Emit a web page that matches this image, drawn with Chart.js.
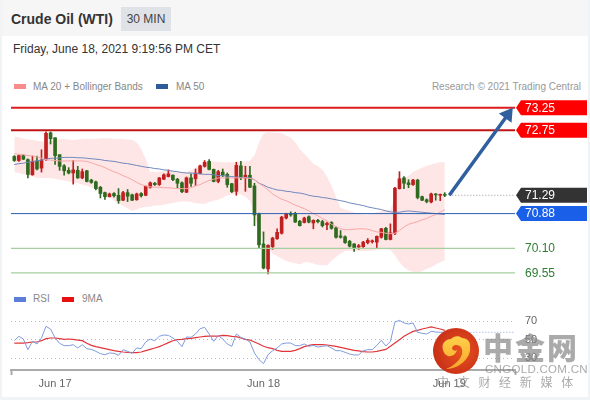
<!DOCTYPE html>
<html>
<head>
<meta charset="utf-8">
<title>Crude Oil (WTI)</title>
<script src="https://cdn.jsdelivr.net/npm/chart.js@4"></script>
<style>
  html, body { margin: 0; padding: 0; background: #fff; }
  body { width: 590px; height: 400px; position: relative; overflow: hidden; font-family: "Liberation Sans", Arial, sans-serif; }
  .abs { position: absolute; white-space: nowrap; }
  canvas { position: absolute; left: 0; }
  #frameL { left: 0; top: 0; width: 2px; height: 400px; background: #f1f4f7; }
  #frameR { left: 588px; top: 0; width: 2px; height: 400px; background: #f1f4f7; }
  #frameB { left: 0; top: 397px; width: 590px; height: 3px; background: #f1f4f7; }
  #head { left: 0; top: 0; width: 590px; height: 36px; background: #f6f6f6; }
  #title { left: 11px; top: 10px; font-size: 14px; line-height: 18px; font-weight: bold; color: #333; }
  #badge { left: 121px; top: 7px; width: 50px; height: 24px; line-height: 24px; text-align: center; font-size: 12px; color: #444; background: #dfe2e6; }
  #stamp { left: 13px; top: 41px; font-size: 12px; line-height: 16px; color: #333; }
  .leg { font-size: 10px; line-height: 12px; color: #888; }
  .swatch { height: 5px; width: 12px; }
  #wm1 { left: 483px; top: 326px; font-family: "Noto Sans CJK SC"; font-weight: 900; font-size: 30px; line-height: 40px; color: rgba(130,130,130,0.68); letter-spacing: 2px; }
  #wm2 { left: 485px; top: 363px; font-size: 11.5px; line-height: 13px; color: rgba(130,130,130,0.68); letter-spacing: 0.3px; }
  #wm3 { left: 437px; top: 374px; font-family: "Noto Sans CJK SC"; font-size: 12px; line-height: 16px; color: rgba(130,130,130,0.68); letter-spacing: 8.7px; }
  #logo { left: 433px; top: 328px; width: 46px; height: 46px; }
</style>
</head>
<body>
<div class="abs" id="head"></div>
<div class="abs" id="frameL"></div>
<div class="abs" id="frameR"></div>
<div class="abs" id="frameB"></div>
<div class="abs" id="title">Crude Oil (WTI)</div>
<div class="abs" id="badge">30 MIN</div>
<div class="abs" id="stamp">Friday, June 18, 2021 9:19:56 PM CET</div>

<div class="abs swatch" style="left:14px;top:84px;background:#f98b8b"></div>
<div class="abs leg" style="left:33px;top:81px">MA 20 + Bollinger Bands</div>
<div class="abs swatch" style="left:156px;top:84px;background:#2f5a9b"></div>
<div class="abs leg" style="left:176px;top:81px">MA 50</div>
<div class="abs leg" style="right:9px;top:81px;color:#999">Research © 2021 Trading Central</div>

<div class="abs swatch" style="left:14px;top:297px;background:#5b7fd8"></div>
<div class="abs leg" style="left:33px;top:293px">RSI</div>
<div class="abs swatch" style="left:62px;top:297px;background:#e81010"></div>
<div class="abs leg" style="left:82px;top:293px">9MA</div>

<canvas id="priceChart" width="590" height="195" style="top:90px"></canvas>
<canvas id="rsiChart" width="590" height="90" style="top:310px"></canvas>

<svg class="abs" id="logo" viewBox="0 0 46 46">
  <defs>
    <radialGradient id="disc" cx="0.6" cy="0.5" r="0.6">
      <stop offset="0" stop-color="#e8521f"/>
      <stop offset="1" stop-color="#c72f17"/>
    </radialGradient>
    <linearGradient id="swirl" x1="0" y1="0" x2="0" y2="1">
      <stop offset="0" stop-color="#ffd24a"/>
      <stop offset="1" stop-color="#f7a52c"/>
    </linearGradient>
  </defs>
  <circle cx="23" cy="23" r="23" fill="url(#disc)"/>
  <path fill="url(#swirl)" d="M10 22c-2-7 3-11 8-11 2-3 8-4 11-1 5 0 9 4 8 9 1 8-5 15-12 19-4 2-8 3-12 3 7-3 14-8 16-15 1-5-1-9-6-9-3 0-5 3-3 5 1 1 3 1 4 0-1 4-5 7-9 6-3-1-4-3-5-6z"/>
</svg>
<div class="abs" id="wm1">中金网</div>
<div class="abs" id="wm2">CNGOLD.COM.CN</div>
<div class="abs" id="wm3">中文财经新媒体</div>

<script>
// 30 minute candles, oldest first
const opens = [72.16,72.07,72.18,72.09,71.75,72.06,71.90,72.09,72.69,72.58,72.20,71.95,71.85,71.79,71.85,71.68,71.84,71.63,71.59,71.47,71.35,71.26,71.33,71.29,71.18,71.35,71.30,71.19,71.33,71.29,71.47,71.56,71.53,71.65,71.71,71.74,71.65,71.57,71.36,71.68,71.66,71.78,71.94,72.05,71.87,71.60,71.81,71.76,71.55,71.38,71.95,71.68,71.74,71.50,70.87,70.20,69.64,70.14,70.32,70.44,70.78,70.88,70.88,70.71,70.68,70.81,70.67,70.73,70.70,70.63,70.68,70.56,70.38,70.36,70.26,70.20,70.13,70.14,70.23,70.25,70.24,70.35,70.55,70.30,70.44,71.44,71.68,71.57,71.53,71.63,71.26,71.19,71.14,71.32,71.29,71.31];
const closes = [72.07,72.18,72.10,71.76,72.05,71.88,72.08,72.68,72.56,72.18,71.94,71.84,71.79,71.86,71.68,71.82,71.60,71.58,71.44,71.33,71.26,71.32,71.28,71.17,71.35,71.27,71.18,71.32,71.28,71.49,71.57,71.53,71.68,71.75,71.77,71.64,71.56,71.37,71.68,71.56,71.79,71.95,72.03,71.87,71.60,71.82,71.74,71.53,71.37,71.96,71.68,71.74,71.47,70.85,70.18,69.66,70.17,70.33,70.46,70.80,70.87,70.85,70.69,70.61,70.78,70.69,70.73,70.70,70.61,70.66,70.55,70.35,70.35,70.23,70.15,70.11,70.16,70.24,70.28,70.27,70.37,70.54,70.30,70.45,71.45,71.66,71.56,71.53,71.63,71.24,71.18,71.15,71.32,71.30,71.31,71.29];
const highs = [72.18,72.19,72.20,72.11,72.17,72.17,72.31,72.71,72.71,72.58,72.20,71.98,71.91,72.07,71.94,71.88,71.85,71.65,71.61,71.49,71.36,71.34,71.35,71.44,71.38,71.42,71.32,71.34,71.35,71.50,71.59,71.58,71.69,71.77,71.86,71.75,71.67,71.59,71.70,71.77,71.88,71.97,72.07,72.09,71.88,71.85,71.88,71.79,71.56,72.03,72.05,71.94,71.94,71.56,70.89,70.47,70.18,70.35,70.54,70.82,70.89,70.92,70.91,70.73,70.80,70.83,70.74,70.75,70.73,70.69,70.70,70.59,70.50,70.38,70.28,70.21,70.19,70.26,70.32,70.29,70.38,70.55,70.57,70.65,71.47,71.82,71.71,71.64,71.65,71.65,71.27,71.21,71.34,71.33,71.32,71.35];
const lows = [72.05,72.05,72.09,71.68,71.74,71.86,71.81,72.07,72.44,71.98,71.85,71.74,71.77,71.54,71.67,71.66,71.59,71.56,71.41,71.23,71.20,71.25,71.25,71.11,71.17,71.15,71.17,71.18,71.25,71.28,71.45,71.51,71.51,71.64,71.70,71.62,71.46,71.35,71.35,71.49,71.51,71.77,71.92,71.86,71.59,71.57,71.71,71.47,71.35,71.29,71.64,71.38,71.46,70.61,70.11,69.64,69.53,70.08,70.30,70.42,70.76,70.82,70.68,70.60,70.67,70.67,70.54,70.67,70.58,70.52,70.53,70.33,70.33,70.21,70.13,70.03,70.08,70.12,70.20,70.22,70.11,70.33,70.29,70.29,70.41,71.43,71.44,71.46,71.51,71.21,71.17,71.12,71.12,71.18,71.17,71.26];

const bbUpper = [72.61,72.59,72.56,72.54,72.53,72.51,72.50,72.48,72.50,72.53,72.55,72.55,72.54,72.53,72.54,72.55,72.56,72.56,72.56,72.57,72.57,72.57,72.56,72.56,72.55,72.54,72.53,72.48,72.33,72.11,71.81,71.81,71.82,71.84,71.85,71.84,71.82,71.81,71.81,71.85,71.90,71.96,72.01,72.04,72.05,72.04,72.03,72.03,72.03,72.04,72.05,72.05,72.07,72.18,72.48,72.67,72.71,72.70,72.69,72.68,72.63,72.58,72.48,72.32,72.22,72.11,72.00,71.94,71.86,71.71,71.51,71.25,71.01,70.97,70.94,70.91,70.88,70.86,70.86,70.88,70.91,70.94,70.95,70.97,71.25,71.55,71.66,71.73,71.81,71.86,71.91,71.95,71.98,72.01,72.03,72.03];
const bbLower = [71.81,71.79,71.76,71.74,71.71,71.68,71.68,71.68,71.68,71.66,71.64,71.62,71.60,71.58,71.56,71.53,71.50,71.47,71.43,71.38,71.32,71.25,71.17,71.11,71.05,71.00,70.94,70.97,71.01,71.03,71.04,71.06,71.06,71.08,71.10,71.12,71.14,71.15,71.15,71.14,71.12,71.10,71.10,71.14,71.17,71.19,71.23,71.29,71.31,71.32,71.31,71.26,71.17,70.84,70.50,70.32,70.13,69.98,69.93,69.87,69.82,69.79,69.77,69.74,69.79,69.79,69.76,69.73,69.72,69.72,69.82,69.91,69.98,70.04,70.05,70.05,70.05,70.04,70.04,70.05,70.07,70.08,70.08,70.07,69.94,69.79,69.68,69.61,69.57,69.56,69.59,69.64,69.68,69.74,69.79,69.83];
const ma20 = [72.22,72.21,72.20,72.18,72.17,72.15,72.12,72.09,72.08,72.07,72.06,72.06,72.06,72.06,72.06,72.06,72.05,72.02,71.98,71.95,71.91,71.86,71.82,71.78,71.73,71.69,71.64,71.58,71.53,71.50,71.48,71.47,71.47,71.46,71.46,71.45,71.44,71.44,71.44,71.46,71.50,71.53,71.58,71.62,71.65,71.68,71.68,71.68,71.68,71.68,71.68,71.68,71.67,71.64,71.56,71.49,71.41,71.32,71.26,71.20,71.17,71.12,71.07,71.03,70.99,70.94,70.88,70.83,70.77,70.72,70.64,70.59,70.54,70.52,70.52,70.53,70.54,70.54,70.53,70.50,70.47,70.46,70.44,70.43,70.44,70.50,70.58,70.64,70.67,70.70,70.74,70.77,70.82,70.86,70.91,70.97];
const ma50 = [71.98,72.00,72.01,72.03,72.05,72.06,72.08,72.10,72.12,72.12,72.13,72.14,72.14,72.14,72.13,72.13,72.12,72.11,72.10,72.09,72.07,72.06,72.05,72.03,72.01,72.00,71.98,71.96,71.94,71.92,71.91,71.89,71.88,71.86,71.85,71.83,71.82,71.80,71.79,71.79,71.78,71.77,71.76,71.76,71.75,71.73,71.73,71.72,71.71,71.70,71.69,71.69,71.68,71.64,71.56,71.52,71.47,71.44,71.41,71.40,71.38,71.37,71.35,71.34,71.32,71.29,71.27,71.26,71.24,71.23,71.21,71.19,71.17,71.15,71.12,71.10,71.08,71.06,71.03,71.01,70.99,70.97,70.94,70.92,70.91,70.91,70.93,70.94,70.93,70.92,70.91,70.90,70.89,70.88,70.87,70.86];

const rsi = [48.9,53.6,50.7,39.3,48.2,45.4,51.8,64.3,61.4,51.8,46.1,43.6,43.6,44.6,41.1,44.6,40.4,39.6,37.5,35,33.9,35.7,35.4,33.2,39.3,37.5,35.4,41.1,40.4,47.5,50.7,48.9,53.6,55,54.6,51.8,48.2,42.5,52.9,52.5,56.1,61.8,63.2,56.1,48.2,54.3,50.7,45.4,42.9,56.1,52.5,50.7,47.5,35.7,28.6,24.3,33.9,38.2,41.1,45.4,46.4,46.4,43.6,43.6,45.4,42.9,43.9,42.1,42.9,43.6,41.1,38.2,38.2,36.4,34.6,33.6,33.6,38.2,39.3,39.3,43.9,49.3,43.2,48.2,68.9,70.7,67.9,66.8,67.9,57.9,56.8,56.1,58.9,58.2,57.9,57.9];
const rsiMa9 = [46.4,46.4,46.4,46.8,47.5,47.5,48.9,51.1,51.8,51.8,51.1,50.4,50.7,50.4,49.6,48.9,46.1,43.9,42.5,41.4,40.4,39.3,38.2,37.5,36.8,36.4,36.1,36.1,36.8,38.2,39.6,41.1,42.5,44.6,46.8,48.9,50,50.4,51.1,51.4,52.1,52.9,53.6,53.9,53.9,53.9,54.6,54.3,53.6,53.2,51.8,50.4,49.6,47.5,45.4,42.9,41.4,40.4,38.6,37.5,37.5,37.5,38.6,40.4,42.5,43.9,44.6,44.6,44.6,44.3,43.6,42.9,41.8,40.7,39.6,38.6,37.9,37.1,36.8,36.8,37.5,38.6,39.6,42.9,46.4,50,53.6,56.4,58.9,60,61.4,62.5,63.6,62.5,61.4,60];
const rsiTicks = [30, 50, 70];
const rsiLast = 57.9;

const dayLabels = ['Jun 17', 'Jun 18', 'Jun 19'];
const dayTicks = [9, 55, 96];

const resistance = [73.25, 72.75];
const support = [70.10, 69.55];
const pivot = 70.88;
const lastPrice = 71.29;

// arrow goes from the last candle up to the first target
const arrowFrom = [96, 71.29];
const arrowTo = [110, 73.25];

const xMin = -0.73;
const xMax = 110.5;
const UP = '#c01f1f';
const DOWN = '#2e6b1f';

function levelLine(value, from, color, width, dash) {
  return {
    type: 'line',
    data: [{ x: from, y: value }, { x: xMax, y: value }],
    borderColor: color,
    borderWidth: width,
    borderDash: dash || [],
    pointRadius: 0,
    order: 1
  };
}

function series(values, color, width) {
  return {
    type: 'line',
    data: values.map((v, i) => ({ x: i, y: v })),
    borderColor: color,
    borderWidth: width,
    pointRadius: 0,
    tension: 0,
    order: 2
  };
}

const candleColors = closes.map((c, i) => (c >= opens[i] ? UP : DOWN));

// price tags to the right of the plot
const priceTags = [
  { value: resistance[0], text: '73.25', fill: '#ff0000', color: '#fff' },
  { value: resistance[1], text: '72.75', fill: '#ff0000', color: '#fff' },
  { value: lastPrice, text: '71.29', fill: '#333333', color: '#fff' },
  { value: pivot, text: '70.88', fill: '#1a5fe8', color: '#fff' },
  { value: support[0], text: '70.10', fill: null, color: '#2e7d32' },
  { value: support[1], text: '69.55', fill: null, color: '#2e7d32' }
];

const tagsPlugin = {
  id: 'tags',
  afterDatasetsDraw(chart) {
    const { ctx, scales: { x, y } } = chart;
    ctx.save();
    // tags
    ctx.font = '12px "Liberation Sans", Arial, sans-serif';
    ctx.textBaseline = 'middle';
    priceTags.forEach(tag => {
      const py = y.getPixelForValue(tag.value);
      if (tag.fill) {
        ctx.fillStyle = tag.fill;
        ctx.beginPath();
        ctx.moveTo(516, py);
        ctx.lineTo(521, py - 7.5);
        ctx.lineTo(587, py - 7.5);
        ctx.lineTo(587, py + 7.5);
        ctx.lineTo(521, py + 7.5);
        ctx.closePath();
        ctx.fill();
      }
      ctx.fillStyle = tag.color;
      ctx.fillText(tag.text, 525, py + 0.5);
    });
    // arrow
    const x0 = x.getPixelForValue(arrowFrom[0]);
    const y0 = y.getPixelForValue(arrowFrom[1]);
    const x1 = x.getPixelForValue(arrowTo[0]);
    const y1 = y.getPixelForValue(arrowTo[1]);
    const ang = Math.atan2(y1 - y0, x1 - x0);
    ctx.strokeStyle = '#2f5f9e';
    ctx.fillStyle = '#2f5f9e';
    ctx.lineWidth = 3.5;
    ctx.beginPath();
    ctx.moveTo(x0, y0);
    ctx.lineTo(x1 - 10 * Math.cos(ang), y1 - 10 * Math.sin(ang));
    ctx.stroke();
    ctx.beginPath();
    ctx.moveTo(x1, y1);
    ctx.lineTo(x1 - 15 * Math.cos(ang - 0.55), y1 - 15 * Math.sin(ang - 0.55));
    ctx.lineTo(x1 - 15 * Math.cos(ang + 0.55), y1 - 15 * Math.sin(ang + 0.55));
    ctx.closePath();
    ctx.fill();
    ctx.restore();
  }
};

new Chart(document.getElementById('priceChart'), {
  data: {
    datasets: [
      {
        type: 'line',
        data: bbUpper.map((v, i) => ({ x: i, y: v })),
        borderWidth: 0,
        pointRadius: 0,
        backgroundColor: '#ffe6e6',
        fill: '+1',
        order: 9
      },
      {
        type: 'line',
        data: bbLower.map((v, i) => ({ x: i, y: v })),
        borderWidth: 0,
        pointRadius: 0,
        order: 9
      },
      {
        type: 'bar',
        data: highs.map((h, i) => ({ x: i, y: [lows[i], h] })),
        backgroundColor: candleColors,
        barThickness: 1,
        grouped: false,
        order: 4
      },
      {
        type: 'bar',
        data: opens.map((o, i) => ({ x: i, y: [o, closes[i]] })),
        backgroundColor: candleColors,
        barThickness: 3,
        grouped: false,
        order: 3
      },
      series(ma20, '#f7a6a6', 1),
      series(ma50, '#6f88bd', 1),
      levelLine(resistance[0], xMin, '#dc1c1c', 2),
      levelLine(resistance[1], xMin, '#c01414', 2),
      levelLine(pivot, xMin, '#2a5fb0', 1),
      levelLine(support[0], xMin, '#a5cf9f', 1.3),
      levelLine(support[1], xMin, '#a5cf9f', 1.3),
      levelLine(lastPrice, 96, '#999999', 1, [1, 2])
    ]
  },
  options: {
    responsive: false,
    animation: false,
    layout: { padding: { left: 11, right: 75, top: 0, bottom: 0 } },
    plugins: { legend: { display: false }, tooltip: { enabled: false } },
    scales: {
      x: { type: 'linear', min: xMin, max: xMax, offset: false, display: false },
      y: { type: 'linear', min: 69.28, max: 73.65, display: false }
    }
  },
  plugins: [tagsPlugin]
});

new Chart(document.getElementById('rsiChart'), {
  data: {
    datasets: [
      series(rsi, '#7f9bdc', 1),
      series(rsiMa9, '#e0363a', 1.2),
      levelLine(rsiLast, 96, '#8fa6e2', 1, [1, 2])
    ]
  },
  options: {
    responsive: false,
    animation: false,
    layout: { padding: { left: 11, right: 0, top: 0, bottom: 0 } },
    plugins: { legend: { display: false }, tooltip: { enabled: false } },
    scales: {
      x: {
        type: 'linear',
        min: xMin,
        max: xMax,
        afterBuildTicks: scale => {
          scale.ticks = [xMin, ...dayTicks, xMax].map(v => ({ value: v }));
        },
        afterFit: scale => { scale.height = 30; },
        ticks: {
          autoSkip: false,
          maxRotation: 0,
          color: '#666',
          padding: 2,
          font: { family: '"Liberation Sans", Arial, sans-serif', size: 11 },
          callback: value => {
            const k = dayTicks.indexOf(value);
            return k >= 0 ? dayLabels[k] : '';
          }
        },
        grid: {
          drawOnChartArea: false,
          tickLength: 5,
          tickWidth: 2,
          tickColor: ctx => (dayTicks.includes(ctx.tick.value) ? 'transparent' : '#aaa')
        },
        border: { color: '#aaa', width: 2 }
      },
      y: {
        type: 'linear',
        position: 'right',
        min: 17.5,
        max: 81.8,
        afterBuildTicks: scale => {
          scale.ticks = rsiTicks.map(v => ({ value: v }));
        },
        afterFit: scale => {
          scale.width = 75;
          // no extra room for the tick labels, the plot has to fill the canvas top
          scale.paddingTop = 0;
          scale.paddingBottom = 0;
        },
        ticks: {
          color: '#666',
          padding: 10,
          font: { family: '"Liberation Sans", Arial, sans-serif', size: 11 }
        },
        grid: { color: '#bbb', drawTicks: false, lineWidth: 1 },
        border: { display: false, dash: [1, 3] }
      }
    }
  }
});
</script>
</body>
</html>
